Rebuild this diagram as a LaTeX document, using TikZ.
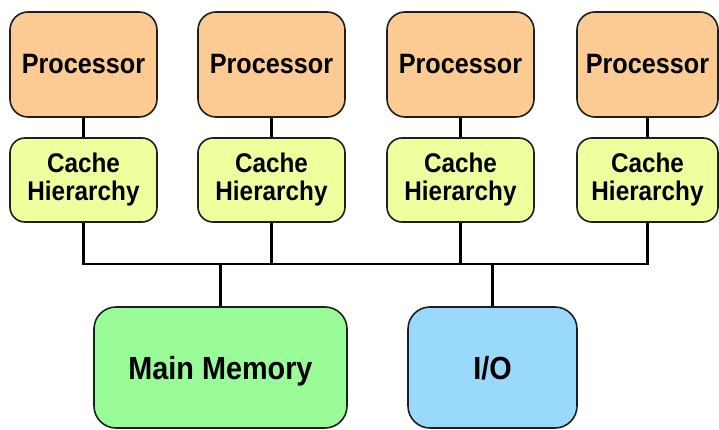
\documentclass[tikz,border=0pt]{standalone}
\usepackage{fontspec}
\newfontfamily\boxfont[FakeStretch=0.9]{Liberation Sans}
\definecolor{procfill}{RGB}{252,203,148}
\definecolor{cachefill}{RGB}{238,255,158}
\definecolor{memfill}{RGB}{153,252,153}
\definecolor{iofill}{RGB}{153,218,252}
\definecolor{edge}{RGB}{30,30,30}
\begin{document}
\begin{tikzpicture}[x=1pt,y=-1pt,
  unit/.style={draw=edge,line width=1.6pt,rectangle,inner sep=0pt,align=center,
    font=\boxfont\bfseries},
  proc/.style={unit,fill=procfill,rounded corners=18pt,minimum width=147pt,
    minimum height=105pt,font=\boxfont\bfseries\fontsize{28}{28}\selectfont},
  cachebox/.style={unit,fill=cachefill,rounded corners=15pt,minimum width=147pt,
    minimum height=84pt,font=\boxfont\bfseries\fontsize{27}{28}\selectfont},
  membox/.style={unit,rounded corners=22pt,minimum height=121pt,
    font=\boxfont\bfseries\fontsize{32}{32}\selectfont,text depth=0pt},
  wire/.style={line width=2.6pt,black}]
\useasboundingbox (0,0) rectangle (719,430);
\fill[white] (0,0) rectangle (719,430);

% processors and their caches
\node[proc] (p1) at (83.5,64.5) {Processor};
\node[proc] (p2) at (271.5,64.5) {Processor};
\node[proc] (p3) at (460.5,64.5) {Processor};
\node[proc,minimum width=141pt] (p4) at (647.5,64.5) {Processor};

\node[cachebox] (c1) at (83.5,180) {Cache\\Hierarchy};
\node[cachebox] (c2) at (271.5,180) {Cache\\Hierarchy};
\node[cachebox] (c3) at (460.5,180) {Cache\\Hierarchy};
\node[cachebox,minimum width=141pt] (c4) at (647.5,180) {Cache\\Hierarchy};

% memory and I/O
\node[membox,fill=memfill,minimum width=253pt] (mem) at (220.5,367.5) {Main Memory};
\node[membox,fill=iofill,minimum width=169pt] (io) at (492.5,367.5) {I/O};

% shared bus
\coordinate (bus) at (0,264);
\foreach \i in {1,2,3,4} {
  \draw[wire] (p\i.south) -- (c\i.north);
}
\draw[wire] (c1.south) -- (c1.south |- bus) -- (c4.south |- bus) -- (c4.south);
\draw[wire] (c2.south) -- (c2.south |- bus);
\draw[wire] (c3.south) -- (c3.south |- bus);
\draw[wire] (mem.north) -- (mem.north |- bus);
\draw[wire] (io.north) -- (io.north |- bus);
\end{tikzpicture}
\end{document}
